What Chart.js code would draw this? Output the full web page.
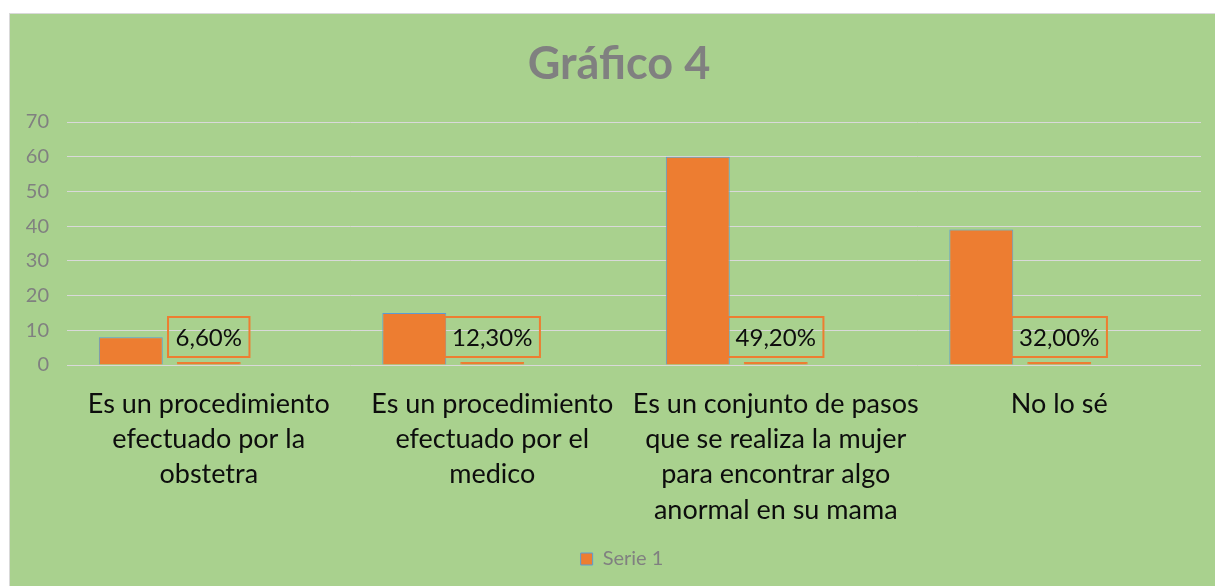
<!DOCTYPE html>
<html>
<head>
<meta charset="utf-8">
<script src="https://cdn.jsdelivr.net/npm/chart.js@4.4.0/dist/chart.umd.min.js"></script>
<style>
  body { margin: 0; background: #ffffff; }
  #panel {
    position: absolute; left: 9px; top: 13px; width: 1206px; height: 573px;
    background: #a9d18e; border-top: 1px solid #d9d9d9; border-left: 1px solid #d9d9d9;
    box-sizing: border-box;
  }
  #grafico { position: absolute; left: 0; top: 0; }
</style>
</head>
<body>
<div id="panel"><canvas id="grafico" width="1206" height="573"></canvas></div>
<script>
  // Datos del gráfico
  let categorias = [
    ['Es un procedimiento', 'efectuado por la', 'obstetra'],
    ['Es un procedimiento', 'efectuado por el', 'medico'],
    ['Es un conjunto de pasos', 'que se realiza la mujer', 'para encontrar algo', 'anormal en su mama'],
    ['No lo sé']
  ];
  let serie1 = [8, 15, 60, 39];
  let serie2 = [0.066, 0.123, 0.492, 0.32];
  let serie3 = [null, null, null, null];

  const naranja = '#ed7d31';
  const fuente = 'Lato, "Open Sans", sans-serif';

  function formatoPorcentaje(v) {
    return (v * 100).toFixed(2).replace('.', ',') + '%';
  }

  // Etiquetas con recuadro sobre la serie 2
  const etiquetasPlugin = {
    id: 'etiquetas',
    afterLayout(chart) {
      chart.legend.left += 33; // leyenda un poco a la derecha
    },
    afterDatasetsDraw(chart) {
      let ctx = chart.ctx;
      let meta = chart.getDatasetMeta(1);
      ctx.save();
      ctx.font = '24px ' + fuente;
      ctx.textAlign = 'center';
      ctx.textBaseline = 'middle';
      meta.data.forEach((bar, i) => {
        let texto = formatoPorcentaje(serie2[i]);
        let w = ctx.measureText(texto).width + 15;
        let h = 40;
        let bottom = bar.y - 5;
        ctx.strokeStyle = naranja;
        ctx.lineWidth = 2;
        ctx.strokeRect(bar.x - w / 2, bottom - h, w, h);
        ctx.fillStyle = '#0d0d0d';
        ctx.fillText(texto, bar.x, bottom - h / 2 + 1);
      });
      ctx.restore();
    }
  };

  // Título
  const tituloPlugin = {
    id: 'titulo',
    afterDraw(chart) {
      let ctx = chart.ctx;
      ctx.save();
      ctx.font = 'bold 45px ' + fuente;
      ctx.fillStyle = '#808080';
      ctx.textAlign = 'center';
      ctx.textBaseline = 'middle';
      ctx.fillText('Gráfico 4', 609, 50);
      ctx.restore();
    }
  };

  let ctx = document.getElementById('grafico').getContext('2d');
  let chart = new Chart(ctx, {
    type: 'bar',
    data: {
      labels: categorias,
      datasets: [
        { label: 'Serie 1', data: serie1, backgroundColor: naranja, borderColor: '#5b9bd5', borderWidth: 1 },
        { label: 'Serie 2', data: serie2, backgroundColor: naranja, borderColor: naranja, borderWidth: 1, minBarLength: 3 },
        { label: 'Serie 3', data: serie3, backgroundColor: '#a5a5a5' }
      ]
    },
    options: {
      responsive: false,
      maintainAspectRatio: false,
      animation: false,
      devicePixelRatio: 1,
      categoryPercentage: 0.825,
      barPercentage: 0.82,
      layout: { padding: { top: 108, right: 15, left: 0, bottom: 8 } },
      plugins: {
        title: { display: false },
        tooltip: { enabled: false },
        legend: {
          position: 'bottom',
          labels: {
            filter: item => item.datasetIndex === 0,
            color: '#808080',
            font: { family: fuente, size: 20 },
            boxWidth: 12,
            boxHeight: 12,
            padding: 10
          }
        }
      },
      scales: {
        x: {
          grid: { display: false },
          border: { display: false },
          ticks: {
            color: '#0d0d0d',
            font: { family: fuente, size: 27, lineHeight: 1.3 },
            padding: 14,
            maxRotation: 0,
            autoSkip: false
          },
          afterFit(scale) { scale.height = 174; }
        },
        y: {
          min: 0,
          max: 70,
          grid: { color: '#d9d9d9', lineWidth: 1, drawTicks: false },
          border: { display: false },
          ticks: {
            stepSize: 10,
            color: '#808080',
            font: { family: fuente, size: 20 },
            padding: 18
          },
          afterFit(scale) { scale.width = 57; }
        }
      }
    },
    plugins: [etiquetasPlugin, tituloPlugin]
  });
</script>
</body>
</html>
